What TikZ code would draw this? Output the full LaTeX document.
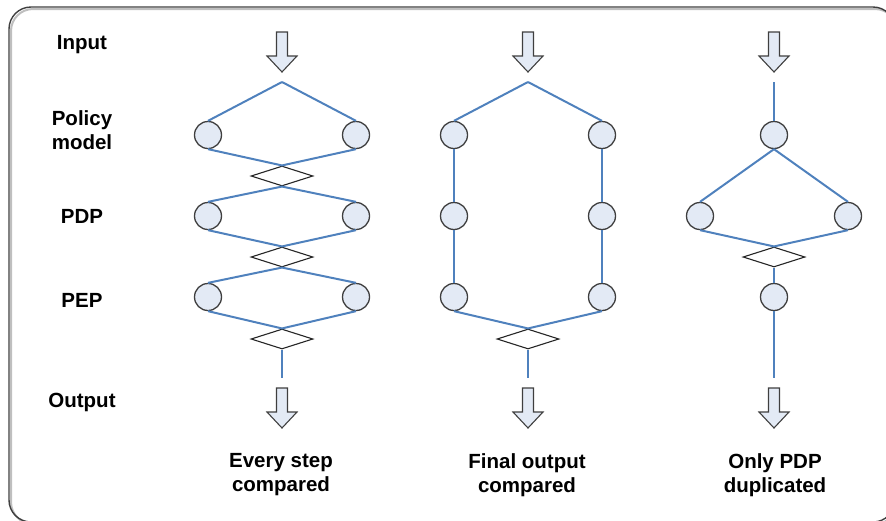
\documentclass[tikz,border=0pt]{standalone}
\usepackage{fontspec}
\setmainfont{Liberation Sans}
\usetikzlibrary{shapes.geometric}
\definecolor{lineblue}{HTML}{4F81BD}
\definecolor{circfill}{HTML}{E3EAF5}
\definecolor{edgegray}{HTML}{3F3F3F}
\begin{document}
\begin{tikzpicture}[x=1pt,y=-1pt,
  bl/.style={draw=lineblue,line width=2pt},
  pc/.style={circle,draw=edgegray,fill=circfill,line width=1.3pt,minimum size=27pt,inner sep=0pt},
  dm/.style={diamond,draw=black!85,fill=white,line width=1.1pt,minimum width=62pt,minimum height=20pt,inner sep=0pt},
  arrowst/.style={draw=edgegray,fill=circfill,line width=1.1pt,line join=miter},
  lbl/.style={font=\bfseries\fontsize{20.5}{24}\selectfont,align=center,text=black},
  dnarrow/.pic={\path[arrowst] (-5.5,0) -- (5.5,0) -- (5.5,24) -- (15,24) -- (0,40) -- (-15,24) -- (-5.5,24) -- cycle;}
]
\clip (0,0) rectangle (886,520);
\useasboundingbox (0,0) rectangle (886,520);
% frame
\draw[black!25,line width=2pt,rounded corners=22pt] (11,9) rectangle (897,524);
\draw[edgegray,line width=1.4pt,rounded corners=22pt] (9,7) rectangle (895,522);

% left labels
\node[lbl] (lin) at (82,45) {Input};
\node[lbl] (lpm) at (82,130) {Policy\\model};
\node[lbl] (lpdp) at (82,216) {PDP};
\node[lbl] (lpep) at (82,300) {PEP};
\node[lbl] (lout) at (82,402) {Output};

% bottom labels
\node[lbl] (t1) at (281,475) {Every step\\compared};
\node[lbl] (t2) at (527,475) {Final output\\compared};
\node[lbl] (t3) at (775,475) {Only PDP\\duplicated};

% arrows
\pic at (282,32) {dnarrow};
\pic at (528,32) {dnarrow};
\pic at (774,32) {dnarrow};
\pic at (282,388) {dnarrow};
\pic at (528,388) {dnarrow};
\pic at (774,388) {dnarrow};

% ---- column 1
\coordinate (p1) at (282,82);
\coordinate (e1) at (282,378);
\node[pc] (a1) at (208,135) {};
\node[pc] (b1) at (356,135) {};
\node[pc] (a2) at (208,216) {};
\node[pc] (b2) at (356,216) {};
\node[pc] (a3) at (208,297) {};
\node[pc] (b3) at (356,297) {};
\node[dm] (d1) at (282,176) {};
\node[dm] (d2) at (282,257) {};
\node[dm] (d3) at (282,339) {};
\draw[bl] (p1) -- (a1.north);
\draw[bl] (p1) -- (b1.north);
\draw[bl] (a1.south) -- (d1.north);
\draw[bl] (b1.south) -- (d1.north);
\draw[bl] (d1.south) -- (a2.north);
\draw[bl] (d1.south) -- (b2.north);
\draw[bl] (a2.south) -- (d2.north);
\draw[bl] (b2.south) -- (d2.north);
\draw[bl] (d2.south) -- (a3.north);
\draw[bl] (d2.south) -- (b3.north);
\draw[bl] (a3.south) -- (d3.north);
\draw[bl] (b3.south) -- (d3.north);
\draw[bl] (d3.south) -- (e1);

% ---- column 2
\coordinate (p2) at (528,82);
\coordinate (e2) at (528,378);
\node[pc] (f1) at (454,135) {};
\node[pc] (g1) at (602,135) {};
\node[pc] (f2) at (454,216) {};
\node[pc] (g2) at (602,216) {};
\node[pc] (f3) at (454,297) {};
\node[pc] (g3) at (602,297) {};
\node[dm] (k3) at (528,339) {};
\draw[bl] (p2) -- (f1.north);
\draw[bl] (p2) -- (g1.north);
\draw[bl] (f1) -- (f2);
\draw[bl] (f2) -- (f3);
\draw[bl] (g1) -- (g2);
\draw[bl] (g2) -- (g3);
\draw[bl] (f3.south) -- (k3.north);
\draw[bl] (g3.south) -- (k3.north);
\draw[bl] (k3.south) -- (e2);

% ---- column 3
\coordinate (p3) at (774,82);
\coordinate (e3) at (774,378);
\node[pc] (h1) at (774,135) {};
\node[pc] (m2) at (700,216) {};
\node[pc] (n2) at (848,216) {};
\node[dm] (q2) at (774,257) {};
\node[pc] (h3) at (774,297) {};
\draw[bl] (p3) -- (h1);
\draw[bl] (h1.south) -- (m2.north);
\draw[bl] (h1.south) -- (n2.north);
\draw[bl] (m2.south) -- (q2.north);
\draw[bl] (n2.south) -- (q2.north);
\draw[bl] (q2) -- (h3);
\draw[bl] (h3) -- (e3);
\end{tikzpicture}
\end{document}
